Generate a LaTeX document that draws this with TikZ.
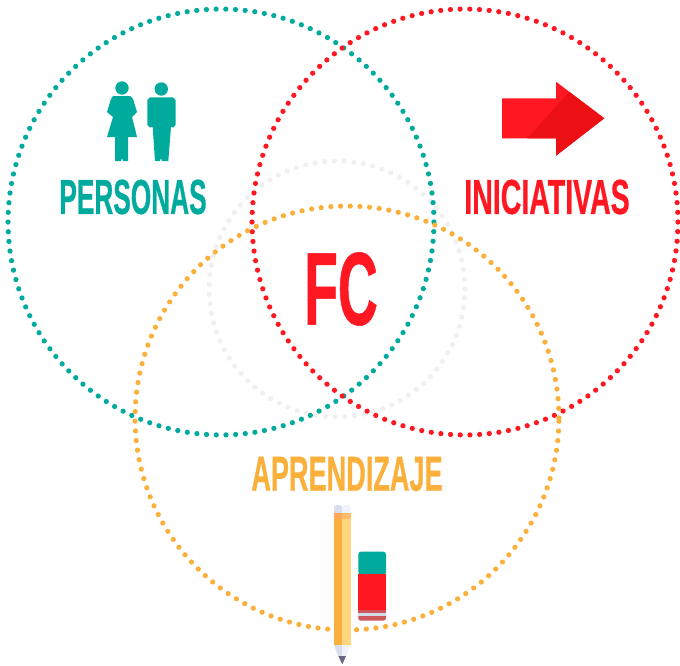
\documentclass[tikz,border=0pt]{standalone}
\usepackage{fontspec}
\usepackage{tikz}
\newfontfamily\labelfont[FakeStretch=0.58,FakeBold=0.5]{Liberation Sans Bold}
\definecolor{tealfc}{HTML}{00AB9D}
\definecolor{redfc}{HTML}{FF1721}
\definecolor{darkredfc}{HTML}{EC1014}
\definecolor{orangefc}{HTML}{FBB03B}
\definecolor{greyfc}{HTML}{F0F0F0}
\definecolor{pencilleft}{HTML}{D9DEEC}
\definecolor{pencilright}{HTML}{EFF2F8}
\definecolor{bandleft}{HTML}{FFA95E}
\definecolor{bandright}{HTML}{FFBC66}
\definecolor{bodyright}{HTML}{FFD67E}
\definecolor{leadfc}{HTML}{66667F}
\definecolor{stripefc}{HTML}{CF555C}
\definecolor{stripelight}{HTML}{D3DCE8}
\tikzset{
    ring/.style={circle, draw=#1, line width=0.105cm, line cap=round, dash pattern=on 0pt off 0.194cm, minimum size=8.52cm, inner sep=0pt, outer sep=0pt},
    title/.style={font=\labelfont\fontsize{28}{28}\selectfont, text=#1, inner sep=0pt, transform shape}
}

\begin{document}
\begin{tikzpicture}[%
    x=0.02cm,
    y=-0.02cm
    ]

    \useasboundingbox (0,0) rectangle (680,666);

    \node[ring=greyfc, minimum size=5.12cm] (centre) at (337,289) {};
    \node[ring=tealfc] (personas) at (221,222) {};
    \node[ring=redfc] (iniciativas) at (465,222) {};
    \node[ring=orangefc, minimum size=8.48cm] (aprendizaje) at (347,418) {};

    \node[title=tealfc, xscale=0.92] (personaslabel) at (133,197) {PERSONAS};
    \node[title=redfc] (iniciativaslabel) at (547,197) {INICIATIVAS};
    \node[title=orangefc, xscale=0.95] (aprendizajelabel) at (347,474) {APRENDIZAJE};
    \node[title=redfc, xscale=0.92, font=\labelfont\fontsize{59}{59}\selectfont] (fclabel) at (341,289) {FC};

    % woman
    \fill[tealfc] (122,88) circle (6.7);
    \fill[tealfc] (113,96) -- (130,96) -- (133,99) -- (137,112) -- (132,117) -- (137,137) -- (128,137)
        -- (128,161) -- (123,161) -- (122,158) -- (121,161) -- (115,161) -- (115,137) -- (107,137)
        -- (113,117) -- (107,112) -- (111,99) -- cycle;
    % man
    \fill[tealfc] (161.3,89) circle (6.7);
    \fill[tealfc] (150,97.3) -- (173,97.3) -- (175.7,100) -- (175.7,125) -- (173,127.5) -- (171,127) -- (168.3,161)
        -- (162,161) -- (161,158) -- (160,161) -- (155,161) -- (152.7,127) -- (150,127.5) -- (147.3,125) -- (147.3,100) -- cycle;

    % arrow
    \fill[redfc] (502,98.3) -- (556,98.3) -- (556,81.7) -- (604.3,118.3) -- (556,155.7) -- (556,138.3) -- (502,138.3) -- cycle;
    \fill[darkredfc] (527.3,138.3) -- (569.3,92) -- (604.3,118.3) -- (556,155.7) -- (556,138.3) -- cycle;

    % pencil
    \fill[pencilleft, rounded corners=1.5pt] (334,515) -- (334,505) -- (342.3,505) -- (342.3,515) -- cycle;
    \fill[pencilright, rounded corners=1.5pt] (342.3,515) -- (342.3,505) -- (350.7,505) -- (350.7,515) -- cycle;
    \fill[bandleft] (334,512.7) rectangle (342.3,519);
    \fill[bandright] (342.3,512.7) rectangle (350.7,519);
    \fill[orangefc] (334,519) rectangle (342.3,645);
    \fill[bodyright] (342.3,519) rectangle (350.7,645);
    \fill[pencilleft] (334,645) -- (342.3,645) -- (342.3,656) -- (338.3,656) -- cycle;
    \fill[pencilright] (342.3,645) -- (350.7,645) -- (346,656) -- (342.3,656) -- cycle;
    \fill[leadfc] (338.3,656) -- (346,656) -- (342.3,664.3) -- cycle;

    % eraser
    \fill[tealfc, rounded corners=1.5pt] (358.3,575) -- (358.3,551.7) -- (386,551.7) -- (386,575) -- cycle;
    \fill[redfc] (358.3,573.7) rectangle (386,610);
    \fill[stripefc, rounded corners=1.5pt] (358.3,612) -- (358.3,620.7) -- (386,620.7) -- (386,612) -- cycle;
    \fill[stripefc] (358.3,610) rectangle (386,613.3);
    \fill[stripelight] (358.3,613.3) rectangle (386,615.7);

\end{tikzpicture}
\end{document}
